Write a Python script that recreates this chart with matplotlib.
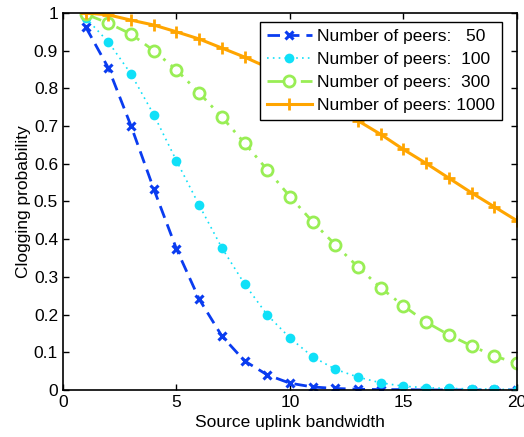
import matplotlib
matplotlib.use("Agg")
import matplotlib.pyplot as plt

plt.rcParams['font.family'] = ['Liberation Sans', 'DejaVu Sans']

bandwidth = list(range(1, 21))
p50 = [0.963, 0.854, 0.70, 0.533, 0.374, 0.241, 0.143, 0.077, 0.040, 0.018,
       0.008, 0.004, 0.002, 0.001, 0.001, 0.0, 0.0, 0.0, 0.0, 0.0]
p100 = [0.987, 0.923, 0.838, 0.73, 0.608, 0.49, 0.377, 0.281, 0.199, 0.138,
        0.088, 0.055, 0.034, 0.019, 0.010, 0.006, 0.004, 0.003, 0.002, 0.001]
p300 = [0.997, 0.973, 0.944, 0.90, 0.849, 0.788, 0.724, 0.655, 0.584, 0.513,
        0.446, 0.385, 0.326, 0.271, 0.223, 0.18, 0.146, 0.117, 0.09, 0.071]
p1000 = [1.0, 0.995, 0.981, 0.968, 0.95, 0.931, 0.907, 0.883, 0.856, 0.825,
         0.79, 0.753, 0.714, 0.678, 0.638, 0.601, 0.562, 0.523, 0.486, 0.449]
labels = ['Number of peers:   50', 'Number of peers:  100',
          'Number of peers:  300', 'Number of peers: 1000']

fig = plt.figure(figsize=(5.24, 4.37), dpi=100)
ax = fig.add_axes([0.1202, 0.1076, 0.8664, 0.8627])

ax.plot(bandwidth, p50, color='#0A3CF0', linestyle=(0, (4.5, 2.5)), linewidth=2,
        marker='x', markersize=5.5, markeredgewidth=2.2, label=labels[0])
ax.plot(bandwidth, p100, color='#10E0F8', linestyle=(0, (1, 2.5)), linewidth=1.2,
        marker='o', markersize=7, markeredgewidth=0, label=labels[1])
ax.plot(bandwidth, p300, color='#99EE55', linestyle=(0, (6, 2.5, 1, 2.5)), linewidth=2,
        marker='o', markersize=8, markerfacecolor='white', markeredgewidth=2,
        label=labels[2])
ax.plot(bandwidth, p1000, color='#FFA500', linestyle='-', linewidth=2.2,
        marker='+', markersize=8, markeredgewidth=2, label=labels[3])

ax.set_xlim(0, 20)
ax.set_ylim(0, 1)
ax.set_xticks([0, 5, 10, 15, 20])
ax.set_yticks([i / 10 for i in range(11)])
ax.set_yticklabels(['0', '0.1', '0.2', '0.3', '0.4', '0.5', '0.6', '0.7', '0.8', '0.9', '1'])
ax.tick_params(direction='in', top=True, right=True, labelsize=12.5, length=4, width=1)
for s in ax.spines.values():
    s.set_linewidth(1.2)

ax.set_xlabel('Source uplink bandwidth', fontsize=12.5, labelpad=4)
ax.set_ylabel('Clogging probability', fontsize=12.5, labelpad=2)

leg = ax.legend(loc='upper right', bbox_to_anchor=(0.967, 0.977), fontsize=12.5,
                fancybox=False, edgecolor='black', framealpha=1,
                handlelength=2.6, handletextpad=0.3, borderpad=0.4,
                labelspacing=0.45, borderaxespad=0)
leg.get_frame().set_linewidth(1)

fig.savefig('out.png', dpi=100)
